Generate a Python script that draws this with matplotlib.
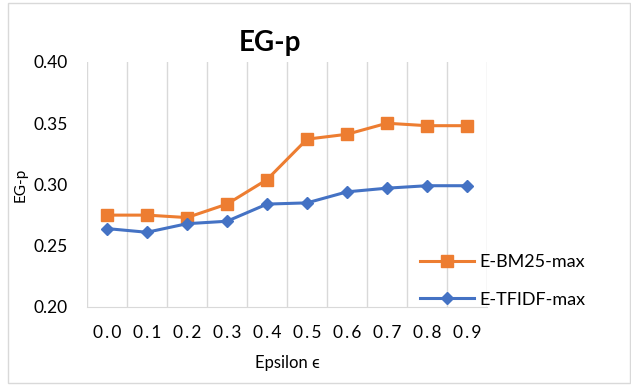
import numpy as np
import matplotlib
matplotlib.use('Agg')
from matplotlib import pyplot as plt
from matplotlib.patches import Rectangle

# data
eps_labels = ['0.0', '0.1', '0.2', '0.3', '0.4', '0.5', '0.6', '0.7', '0.8', '0.9']
bm25_max = [0.275, 0.275, 0.273, 0.284, 0.304, 0.337, 0.341, 0.350, 0.348, 0.348]
tfidf_max = [0.264, 0.261, 0.268, 0.270, 0.284, 0.285, 0.294, 0.297, 0.299, 0.299]
y_ticks = [0.20, 0.25, 0.30, 0.35, 0.40]

plt.rcParams['font.family'] = ['Lato', 'DejaVu Sans']

fig = plt.figure(figsize=(6.31, 3.85), dpi=100)
ax = fig.add_axes([0.1379, 0.2026, 0.6339, 0.6364])

x = np.arange(len(eps_labels))
ax.plot(x, bm25_max, color='#ED7D31', lw=2.2, marker='s', ms=9, label='E-BM25-max')
ax.plot(x, tfidf_max, color='#4472C4', lw=2.2, marker='D', ms=6.5, label='E-TFIDF-max')

ax.set_xlim(-0.5, len(eps_labels) - 0.5)
ax.set_ylim(0.2, 0.4)
ax.set_xticks(x)
ax.set_xticklabels(['\u2009'.join(s) for s in eps_labels], fontsize=12.5)
ax.set_yticks(y_ticks)
ax.set_yticklabels(['%.2f' % v for v in y_ticks], fontsize=12.5)
ax.set_xticks(np.arange(-0.5, len(eps_labels)), minor=True)
ax.grid(True, which='minor', axis='x', color='#D9D9D9', lw=1)
ax.tick_params(which='both', length=0)
ax.tick_params(axis='x', pad=13)
ax.tick_params(axis='y', pad=14)
for s in ['top', 'left', 'right']:
    ax.spines[s].set_visible(False)
ax.spines['bottom'].set_color('#D9D9D9')

ax.set_xlabel('Epsilon ϵ', fontsize=12, labelpad=10)
ax.set_ylabel('EG-p', fontsize=11, labelpad=4)
fig.text(0.428, 0.888, 'EG-p', fontsize=20, fontweight='bold', ha='center', va='center')

ax.legend(loc='upper left', bbox_to_anchor=(420 / 631, 1 - 254 / 385),
          bbox_transform=fig.transFigure, frameon=False, fontsize=13,
          borderpad=0, borderaxespad=0, handlelength=3.0, labelspacing=1.2,
          handletextpad=0.3)

fig.patches.append(Rectangle((0.013, 0.005), 0.985, 0.988, transform=fig.transFigure,
                             fill=False, edgecolor='#D9D9D9', lw=1))

fig.savefig('out.png', dpi=100)
